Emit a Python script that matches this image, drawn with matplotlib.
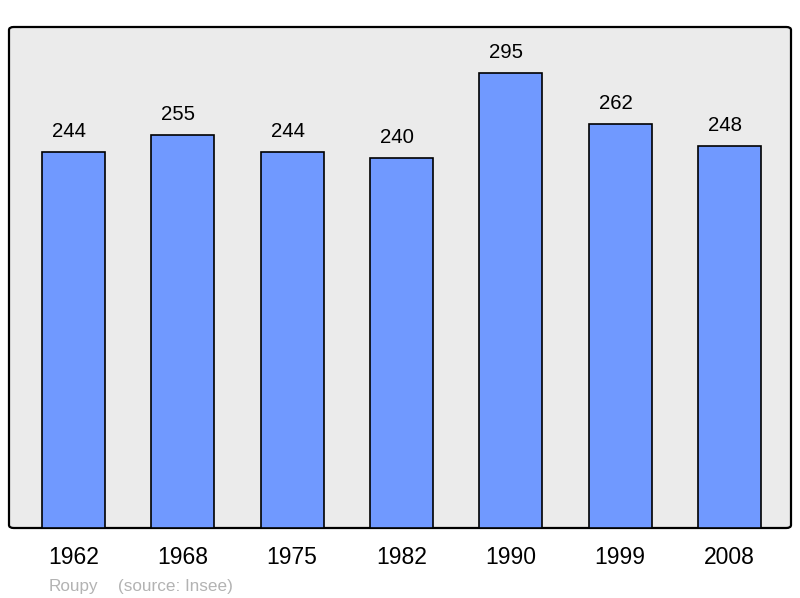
import matplotlib.pyplot as plt
from matplotlib.patches import FancyBboxPatch

years = ['1962', '1968', '1975', '1982', '1990', '1999', '2008']
population = [244, 255, 244, 240, 295, 262, 248]

plt.rcParams['font.family'] = ['Liberation Sans', 'DejaVu Sans']

fig = plt.figure(figsize=(8, 5.98), dpi=100)
ax = fig.add_axes([9 / 800, 70 / 598, 782 / 800, 501 / 598])
ax.set_axis_off()

# rounded grey panel
panel = FancyBboxPatch((0, 0), 1, 1, boxstyle='round,pad=0,rounding_size=0.006',
                       transform=ax.transAxes, facecolor='#ebebeb',
                       edgecolor='black', linewidth=1.6, zorder=0, clip_on=False)
ax.add_patch(panel)

x = list(range(len(years)))
ax.bar(x, population, width=0.576, color='#7099ff', edgecolor='black',
       linewidth=1.2, zorder=2)

for xi, v in zip(x, population):
    ax.annotate(str(v), (xi, v), xytext=(-3.3, 8), textcoords='offset points',
                ha='center', va='bottom', fontsize=14.7)

for xi, label in zip(x, years):
    ax.annotate(label, (xi, 0), xytext=(0, -21.5), textcoords='offset points',
                ha='center', va='center', fontsize=16.5, annotation_clip=False)

ax.set_xlim(-0.59, 6.563)
ax.set_ylim(0, 325)

fig.text(49 / 800, 1 - 586 / 598, 'Roupy', color='#b3b3b3', fontsize=12.3, va='center')
fig.text(118 / 800, 1 - 586 / 598, '(source: Insee)', color='#b3b3b3', fontsize=12.3, va='center')

fig.savefig('out.png', dpi=100)
